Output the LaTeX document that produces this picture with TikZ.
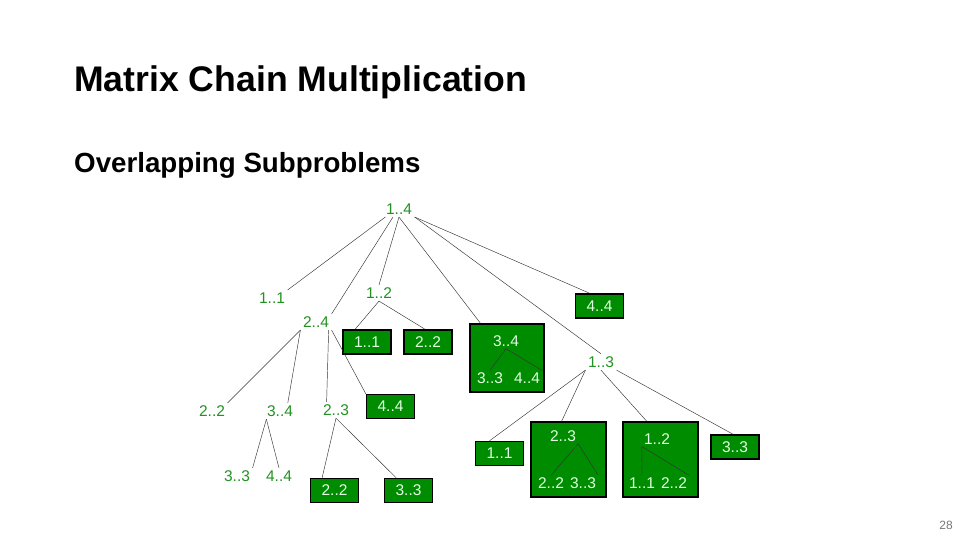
\documentclass[tikz,border=0pt]{standalone}
\usepackage{fontspec}
\setmainfont{Liberation Sans}
\usetikzlibrary{calc}
\definecolor{treegreen}{RGB}{34,145,34}
\definecolor{boxgreen}{RGB}{0,140,0}
\definecolor{boxtext}{RGB}{225,255,225}
\definecolor{pagegray}{RGB}{120,120,120}
\tikzset{
  lbl/.style={text=treegreen, font=\fontsize{15.5}{17}\selectfont, inner sep=2.5pt},
  leaf/.style={draw=black, line width=1.5pt, fill=boxgreen, text=boxtext,
    font=\fontsize{15.5}{17}\selectfont, minimum width=48pt, minimum height=24pt, inner sep=0pt},
  bigbox/.style={draw=black, line width=1.5pt, fill=boxgreen, inner sep=0pt},
  inlbl/.style={text=boxtext, font=\fontsize{15.5}{17}\selectfont, inner sep=2pt},
  edge/.style={draw=black!80, line width=0.45pt},
}
\begin{document}
\begin{tikzpicture}[x=1pt,y=-1pt]
\useasboundingbox (0,0) rectangle (960,540);
% titles
\node[anchor=base west, inner sep=0pt, font=\bfseries\fontsize{35.6}{40}\selectfont] (title) at (74,92) {Matrix Chain Multiplication};
\node[anchor=base west, inner sep=0pt, font=\bfseries\fontsize{27.7}{32}\selectfont] (sub) at (74,173) {Overlapping Subproblems};
\node[text=pagegray, font=\fontsize{12}{14}\selectfont, inner sep=0pt] (page) at (946,525) {28};

% big boxes
\node[bigbox, minimum width=74pt, minimum height=68pt] (b34) at (507,358) {};
\node[bigbox, minimum width=75pt, minimum height=75pt] (b23) at (568.5,459.5) {};
\node[bigbox, minimum width=75pt, minimum height=75pt] (b12) at (660.5,459.5) {};

% tree labels
\node[lbl] (n14) at (399,209) {1..4};
\node[lbl] (n11) at (272,298) {1..1};
\node[lbl] (n12) at (379,293) {1..2};
\node[lbl] (n24) at (316,322) {2..4};
\node[leaf] (l11a) at (367,342) {1..1};
\node[leaf] (l22a) at (428,342) {2..2};
\node[leaf] (l44a) at (599.5,306) {4..4};
\node[lbl] (n13) at (601,362) {1..3};
\node[lbl] (n22) at (212,411) {2..2};
\node[lbl] (n34) at (280,411) {3..4};
\node[lbl] (n23) at (336,410) {2..3};
\node[leaf] (l44b) at (390.5,406.5) {4..4};
\node[lbl] (n33) at (237,476) {3..3};
\node[lbl] (n44) at (279,476) {4..4};
\node[leaf] (l22b) at (334.5,490.5) {2..2};
\node[leaf] (l33b) at (408.5,490.5) {3..3};
\node[leaf] (l11b) at (499.5,453.5) {1..1};
\node[leaf] (l33c) at (735,447) {3..3};

% inside big boxes
\node[inlbl] (i34) at (506,341) {3..4};
\node[inlbl] (i33) at (490,378) {3..3};
\node[inlbl] (i44) at (527,378) {4..4};
\node[inlbl] (i23) at (563,436) {2..3};
\node[inlbl] (i22) at (551,483) {2..2};
\node[inlbl] (i33b) at (583,483) {3..3};
\node[inlbl] (j12) at (657,439) {1..2};
\node[inlbl] (j11) at (642,483) {1..1};
\node[inlbl] (j22) at (674,483) {2..2};

% edges
\draw[edge] ($(n14.south west)+(2,0)$) -- (n11.north east);
\draw[edge] ($(n14.south)+(-6,0)$) -- (n24.north east);
\draw[edge] (n14.south) -- (n12.north);
\draw[edge] (n14.south) -- (b34);
\draw[edge] (n14.south east) -- (n13.north);
\draw[edge] (n14.south east) -- ($(l44a.north west)!0.3!(l44a.north east)$);
\draw[edge] (n12.south) -- ($(l11a.north west)!0.26!(l11a.north east)$);
\draw[edge] (n12.south) -- ($(l22a.north west)!0.44!(l22a.north east)$);
\draw[edge] (n24.south west) -- (n22.north east);
\draw[edge] (n24.south west) -- ($(n34.north)!0.5!(n34.north east)$);
\draw[edge] ($(n24.south east)+(-3,0)$) -- ($(n23.north west)!0.2!(n23.north east)$);
\draw[edge] (n24.south east) -- (l44b.north west);
\draw[edge] ($(n34.south west)+(2,0)$) -- (n33.north east);
\draw[edge] ($(n34.south west)+(2,0)$) -- (n44.north);
\draw[edge] (n23.south) -- ($(l22b.north west)!0.25!(l22b.north east)$);
\draw[edge] (n23.south) -- ($(l33b.north west)!0.25!(l33b.north east)$);
\draw[edge] (n13.south west) -- ($(l11b.north west)!0.3!(l11b.north east)$);
\draw[edge] (n13.south west) -- ($(b23.north west)!0.41!(b23.north east)$);
\draw[edge] (n13.south) -- ($(b12.north west)!0.32!(b12.north east)$);
\draw[edge] (n13.south east) -- ($(l33c.north west)!0.46!(l33c.north east)$);
% inner edges
\draw[edge] (i34.south) -- (i33.north);
\draw[edge] (i34.south) -- (i44.north east);
\draw[edge] (i23.south east) -- (i22.north);
\draw[edge] (i23.south east) -- (i33b.north east);
\draw[edge] (j12.south west) -- (j11.north);
\draw[edge] (j12.south west) -- (j22.north east);
\end{tikzpicture}
\end{document}
